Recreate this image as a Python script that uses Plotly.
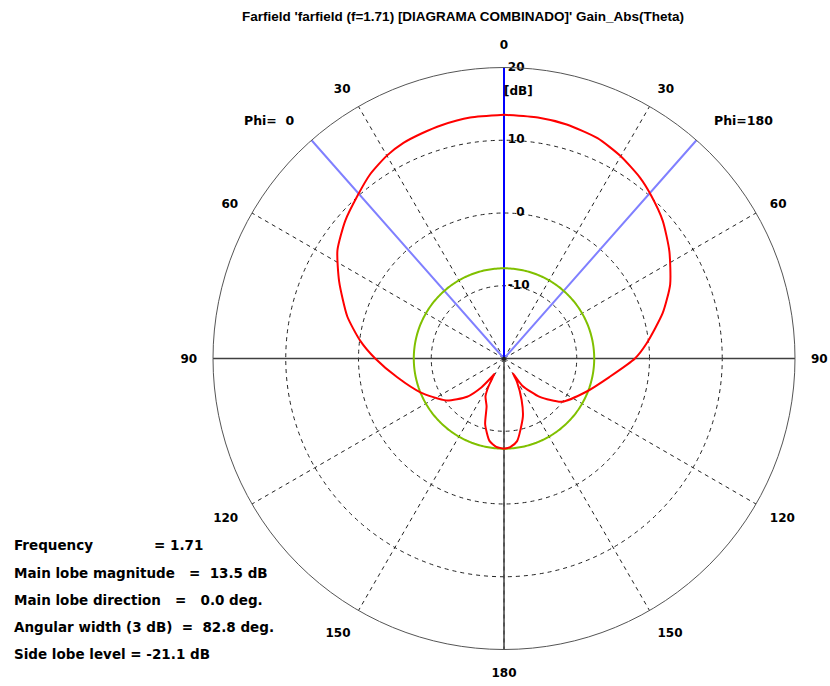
import numpy as np
import plotly.graph_objects as go

# ---------------- data ----------------
# Phi = 0 cut (left half), theta in degrees, gain in dB
theta_phi0 = [0, 8, 15, 20, 25, 30, 36, 42, 49, 57, 65, 75, 83, 90, 100, 112,
              126, 136, 142, 146, 148, 151, 154, 160, 164, 170, 175, 180]
gain_phi0 = [13.5, 13.45, 13.2, 12.95, 12.7, 12.2, 11.3, 10.1, 8.9, 7.3, 5.0,
             2.3, -0.1, -2.3, -5.1, -7.6, -10.2, -12.7, -15.0, -16.8, -17.5,
             -15.6, -14.2, -13.0, -10.6, -8.5, -7.8, -7.6]

# Phi = 180 cut (right half)
theta_phi180 = [0, 8, 15, 23, 30, 37, 42, 49, 57, 66, 74, 84, 90, 100, 112,
                127, 137, 146, 149, 151, 157, 162, 171, 176, 180]
gain_phi180 = [13.5, 13.45, 13.3, 12.9, 12.1, 11.1, 10.2, 8.9, 7.1, 5.0, 2.7,
               -0.3, -2.0, -5.3, -7.8, -10.1, -12.8, -15.5, -17.6, -16.3,
               -13.8, -11.6, -8.5, -7.8, -7.6]

main_lobe_magnitude = 13.5   # dB
main_lobe_direction = 0.0    # deg
angular_width = 82.8         # deg (3 dB)
side_lobe_level = -21.1      # dB relative
frequency = 1.71

r_min, r_max = -20, 20
radial_ticks = [-10, 0, 10, 20]
radial_labels = ["-10", "\u20070", "10", "20"]
angle_ticks = [0, 30, 60, 90, 120, 150, 180, 210, 240, 270, 300, 330]
angle_labels = ["0", "30", "60", "90", "120", "150", "180", "150", "120", "90", "60", "30"]

title_text = "Farfield 'farfield (f=1.71) [DIAGRAMA COMBINADO]' Gain_Abs(Theta)"
info_lines = [
    "Main lobe magnitude\u00a0\u00a0\u00a0=\u00a0\u00a013.5 dB",
    "Main lobe direction\u00a0\u00a0\u00a0=\u00a0\u00a0\u00a00.0 deg.",
    "Angular width (3 dB)\u00a0\u00a0=\u00a0\u00a082.8 deg.",
    "Side lobe level = -21.1 dB",
]

TFONT = "Liberation Sans"
LFONT = "DejaVu Sans"

# ---------------- figure ----------------
fig = go.Figure()

# solid axis lines (horizontal 90-90, lower vertical 180)
fig.add_trace(go.Scatterpolar(r=[r_max, r_min, r_max], theta=[90, 90, 270], mode="lines",
                              line=dict(color="#404040", width=1.5), hoverinfo="skip"))
fig.add_trace(go.Scatterpolar(r=[r_min, r_max], theta=[180, 180], mode="lines",
                              line=dict(color="#404040", width=1.5), hoverinfo="skip"))

# 3 dB beamwidth markers
half = angular_width / 2
fig.add_trace(go.Scatterpolar(r=[r_max, r_min, r_max],
                              theta=[main_lobe_direction + half, 0, 360 - half],
                              mode="lines", line=dict(color="#8080ff", width=2), hoverinfo="skip"))
# main lobe direction
fig.add_trace(go.Scatterpolar(r=[r_min, r_max], theta=[main_lobe_direction] * 2, mode="lines",
                              line=dict(color="#0000ff", width=2), hoverinfo="skip"))

# side lobe level circle
sll_abs = main_lobe_magnitude + side_lobe_level
circ_theta = np.arange(0, 361, 1)
fig.add_trace(go.Scatterpolar(r=[sll_abs] * len(circ_theta), theta=circ_theta, mode="lines",
                              line=dict(color="#80c000", width=2), hoverinfo="skip"))

# pattern
fig.add_trace(go.Scatterpolar(r=gain_phi0, theta=theta_phi0, mode="lines",
                              line=dict(color="#ff0000", width=2, shape="spline", smoothing=0.6)))
fig.add_trace(go.Scatterpolar(r=gain_phi180, theta=[360 - t for t in theta_phi180], mode="lines",
                              line=dict(color="#ff0000", width=2, shape="spline", smoothing=0.6)))

# centre dot
fig.add_trace(go.Scatterpolar(r=[r_min], theta=[0], mode="markers",
                              marker=dict(color="#202020", size=4), hoverinfo="skip"))

# radial scale labels (to the right of the vertical axis) and [dB] unit label
fig.add_trace(go.Scatterpolar(r=radial_ticks, theta=[0] * len(radial_ticks), mode="text",
                              text=["\u00a0<b>%s</b>" % t for t in radial_labels],
                              textposition="middle right", cliponaxis=False, hoverinfo="skip",
                              textfont=dict(family=LFONT, size=12, color="black")))
fig.add_trace(go.Scatterpolar(r=[16.6], theta=[0], mode="text", text=["<b>[dB]</b>"],
                              textposition="middle right", cliponaxis=False, hoverinfo="skip",
                              textfont=dict(family=LFONT, size=12, color="black")))

cx0, cx1 = 213 / 830, 795 / 830
cy0, cy1 = 1 - 649.5 / 686, 1 - 67.5 / 686

fig.update_layout(
    width=830, height=686,
    margin=dict(l=0, r=0, t=0, b=0),
    paper_bgcolor="white",
    showlegend=False,
    font=dict(family=LFONT, size=12, color="black"),
    polar=dict(
        domain=dict(x=[cx0, cx1], y=[cy0, cy1]),
        bgcolor="white",
        angularaxis=dict(
            rotation=90, direction="counterclockwise",
            tickmode="array", tickvals=angle_ticks,
            ticktext=["<b>%s</b>" % t for t in angle_labels],
            tickfont=dict(family=LFONT, size=12, color="black"),
            ticks="outside", ticklen=13, tickcolor="rgba(0,0,0,0)",
            showgrid=True, gridcolor="#222222", gridwidth=1, griddash="4px,4px",
            showline=True, linecolor="#555555", linewidth=1,
        ),
        radialaxis=dict(
            range=[r_min, r_max], tickmode="array", tickvals=radial_ticks,
            showticklabels=False, angle=90, ticks="",
            showgrid=True, gridcolor="#222222", gridwidth=1, griddash="4px,4px",
            showline=False,
        ),
    ),
)

annotations = [
    dict(text="<b>%s</b>" % title_text, x=463 / 830, y=1 - 17 / 686, xanchor="center",
         yanchor="middle", font=dict(family=TFONT, size=13.5, color="black")),
    dict(text="<b>Phi=\u00a0\u00a00</b>", x=242 / 830, y=1 - 121 / 686, xanchor="left", yanchor="middle"),
    dict(text="<b>Phi=180</b>", x=712 / 830, y=1 - 121 / 686, xanchor="left", yanchor="middle"),
    dict(text="<b>Frequency</b>", x=12 / 830, y=1 - 545 / 686, xanchor="left", yanchor="middle",
         font=dict(family=LFONT, size=13.5, color="black")),
    dict(text="<b>= %.2f</b>" % frequency, x=152 / 830, y=1 - 545 / 686, xanchor="left",
         yanchor="middle", font=dict(family=LFONT, size=13.5, color="black")),
]
for i, line in enumerate(info_lines):
    y = 573 + i * 27
    annotations.append(dict(text="<b>%s</b>" % line, x=12 / 830, y=1 - y / 686,
                            xanchor="left", yanchor="middle",
                            font=dict(family=LFONT, size=13.5, color="black")))
for a in annotations:
    a.update(xref="paper", yref="paper", showarrow=False)
    a.setdefault("font", dict(family=LFONT, size=12.5, color="black"))
fig.update_layout(annotations=annotations)

fig.write_html("out.html", config={"displayModeBar": False},
               post_script="document.body.style.margin='0px';")
